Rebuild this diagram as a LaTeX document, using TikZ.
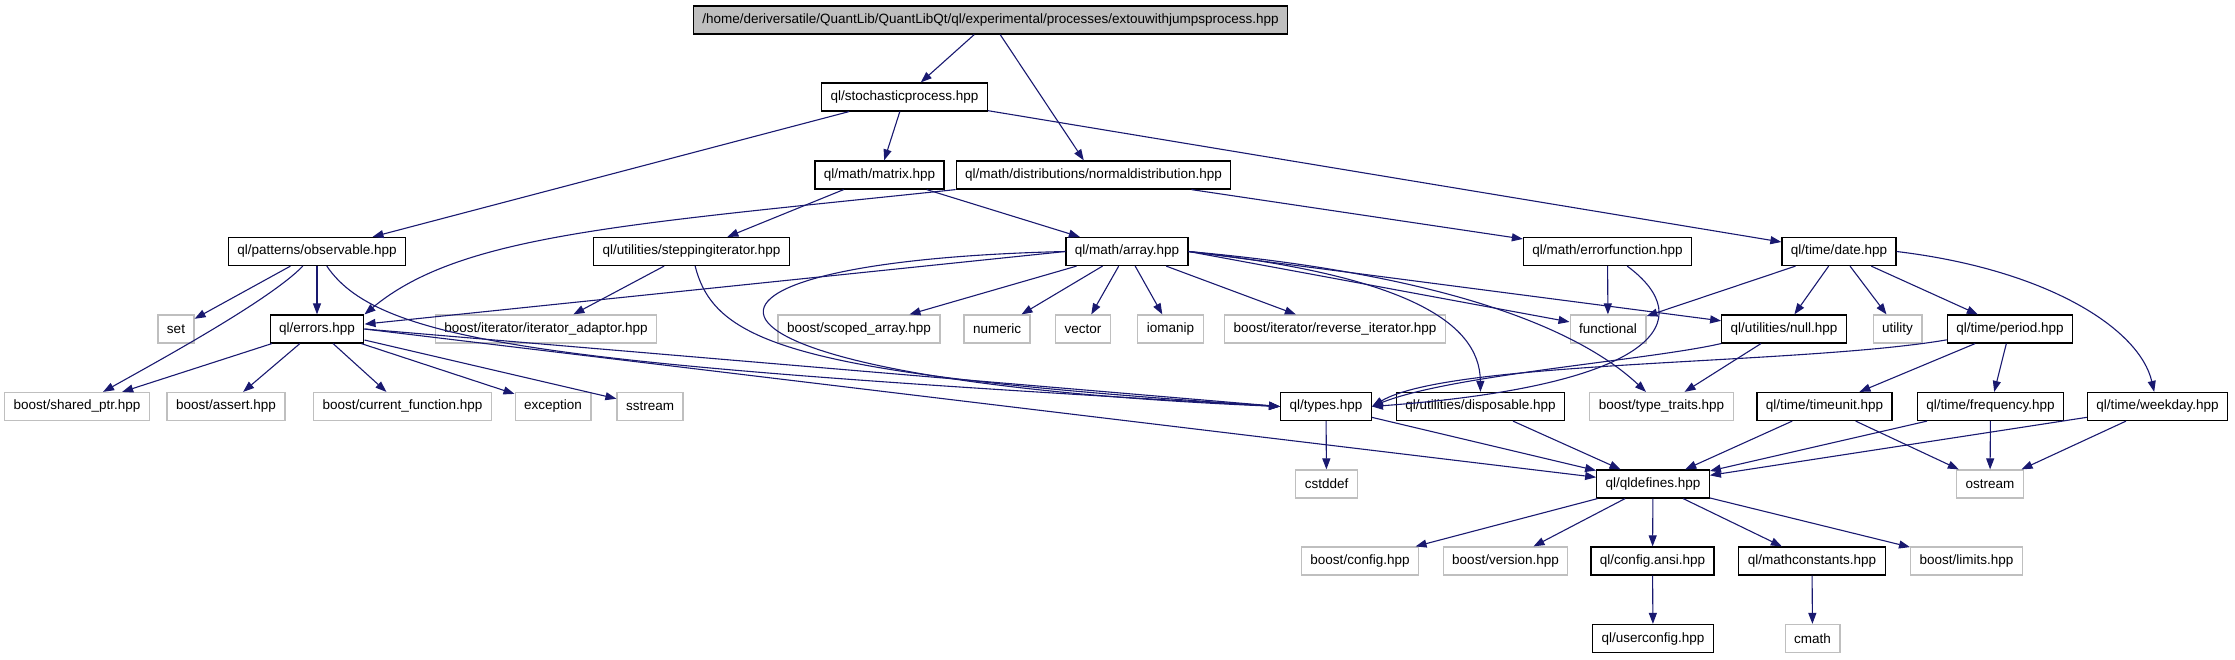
\documentclass[tikz,border=0pt]{standalone}
\usepackage{fontspec}
\setmainfont{Liberation Sans}
\usetikzlibrary{arrows.meta}

\definecolor{edgeblue}{RGB}{25,25,112}
\definecolor{boxgray}{RGB}{191,191,191}

\begin{document}
\begin{tikzpicture}[
    x=1pt, y=-1pt,
    >={Triangle[length=11pt,width=8pt]},
    filenode/.style={
        draw=black,
        line width=1.2pt,
        minimum height=28pt,
        inner xsep=9pt,
        inner ysep=0pt,
        font=\fontsize{13.5}{15}\selectfont
    },
    sysnode/.style={
        filenode,
        draw=boxgray
    },
    rootnode/.style={
        filenode,
        fill=boxgray
    },
    incl/.style={
        edgeblue,
        line width=1.1pt,
        ->
    }
]

\useasboundingbox (0,0) rectangle (2235,659);

% ============ TOP ============
\node[rootnode] (root) at (990.5,20) {/home/deriversatile/QuantLib/QuantLibQt/ql/experimental/processes/extouwithjumpsprocess.hpp};
\node[filenode] (stoch) at (904.5,97) {ql/stochasticprocess.hpp};
\node[filenode] (matrix) at (879.5,175) {ql/math/matrix.hpp};
\node[filenode] (normdist) at (1093.5,175) {ql/math/distributions/normaldistribution.hpp};

% ============ ROW 3 ============
\node[filenode] (observable) at (317,251.5) {ql/patterns/observable.hpp};
\node[filenode] (stepping) at (691.5,251.5) {ql/utilities/steppingiterator.hpp};
\node[filenode] (array) at (1127,251.5) {ql/math/array.hpp};
\node[filenode] (errorfn) at (1607.5,251.5) {ql/math/errorfunction.hpp};
\node[filenode] (date) at (1839,251.5) {ql/time/date.hpp};

% ============ ROW 4 ============
\node[sysnode] (set) at (176,329) {set};
\node[filenode] (errors) at (317,329) {ql/errors.hpp};
\node[sysnode] (iteradaptor) at (546,329) {boost/iterator/iterator\_adaptor.hpp};
\node[sysnode] (scoped) at (859,329) {boost/scoped\_array.hpp};
\node[sysnode] (numeric) at (997,329) {numeric};
\node[sysnode] (vector) at (1083,329) {vector};
\node[sysnode] (iomanip) at (1170.5,329) {iomanip};
\node[sysnode] (reviter) at (1335,329) {boost/iterator/reverse\_iterator.hpp};
\node[sysnode] (functional) at (1608,329) {functional};
\node[filenode] (null) at (1784,329) {ql/utilities/null.hpp};
\node[sysnode] (utility) at (1897.5,329) {utility};
\node[filenode] (period) at (2010,329) {ql/time/period.hpp};

% ============ ROW 5 ============
\node[sysnode] (sharedptr) at (77,406.5) {boost/shared\_ptr.hpp};
\node[sysnode] (assert) at (226,406.5) {boost/assert.hpp};
\node[sysnode] (curfunc) at (402.5,406.5) {boost/current\_function.hpp};
\node[sysnode] (exception) at (553,406.5) {exception};
\node[sysnode] (sstream) at (650,406.5) {sstream};
\node[filenode] (types) at (1326,406.5) {ql/types.hpp};
\node[filenode] (disposable) at (1480.5,406.5) {ql/utilities/disposable.hpp};
\node[sysnode] (typetraits) at (1661.5,406.5) {boost/type\_traits.hpp};
\node[filenode] (timeunit) at (1824.5,406.5) {ql/time/timeunit.hpp};
\node[filenode] (frequency) at (1990.5,406.5) {ql/time/frequency.hpp};
\node[filenode] (weekday) at (2157.5,406.5) {ql/time/weekday.hpp};

% ============ BOTTOM ============
\node[sysnode] (cstddef) at (1326.5,484) {cstddef};
\node[filenode] (qldefines) at (1653,484) {ql/qldefines.hpp};
\node[sysnode] (ostream) at (1990,484) {ostream};
\node[sysnode] (bconfig) at (1360,561) {boost/config.hpp};
\node[sysnode] (bversion) at (1505.5,561) {boost/version.hpp};
\node[filenode] (configansi) at (1652.5,561) {ql/config.ansi.hpp};
\node[filenode] (mathconst) at (1812,561) {ql/mathconstants.hpp};
\node[sysnode] (blimits) at (1966.5,561) {boost/limits.hpp};
\node[filenode] (userconfig) at (1653,638.5) {ql/userconfig.hpp};
\node[sysnode] (cmath) at (1812.5,638.5) {cmath};

% ============ EDGES ============
\draw[incl] (root) -- (stoch);
\draw[incl] (root) -- (normdist);
\draw[incl] (stoch) -- (observable);
\draw[incl] (stoch) -- (matrix);
\draw[incl] (stoch) -- (date);
\draw[incl] (matrix) -- (stepping);
\draw[incl] (matrix) -- (array);
\draw[incl] (normdist.south west) .. controls (620,225) and (460,235) .. (errors.north east);
\draw[incl] (normdist) -- (errorfn);

% observable
\draw[incl] (observable) -- (set);
\draw[incl] (observable) -- (errors);
\draw[incl] (observable) .. controls (270,300) and (160,360) .. (sharedptr);
\draw[incl] (observable) .. controls (380,345) and (560,365) .. (types.west);

% stepping iterator
\draw[incl] (stepping) -- (iteradaptor);
\draw[incl] (stepping) .. controls (715,345) and (800,375) .. (types.west);

% array
\draw[incl] (array.west) -- (errors);
\draw[incl] (array.west) .. controls (620,262) and (650,380) .. (types.west);
\draw[incl] (array) -- (scoped);
\draw[incl] (array) -- (numeric);
\draw[incl] (array) -- (vector);
\draw[incl] (array) -- (iomanip);
\draw[incl] (array) -- (reviter);
\draw[incl] (array.east) .. controls (1400,275) and (1480,320) .. (disposable);
\draw[incl] (array.east) .. controls (1450,275) and (1580,330) .. (typetraits);
\draw[incl] (array.east) -- (functional);
\draw[incl] (array.east) -- (null);

% error function, date
\draw[incl] (errorfn) -- (functional);
\draw[incl] (errorfn) .. controls (1700,320) and (1660,385) .. (types.east);
\draw[incl] (date) -- (functional);
\draw[incl] (date) -- (null);
\draw[incl] (date) -- (utility);
\draw[incl] (date) -- (period);
\draw[incl] (date.east) .. controls (2050,270) and (2140,330) .. (weekday);

% errors
\draw[incl] (errors) -- (sharedptr);
\draw[incl] (errors) -- (assert);
\draw[incl] (errors) -- (curfunc);
\draw[incl] (errors) -- (exception);
\draw[incl] (errors) -- (sstream);
\draw[incl] (errors.east) -- (types.west);
\draw[incl] (errors.east) -- (qldefines);

% null, period
\draw[incl] (null) .. controls (1650,360) and (1450,375) .. (types.east);
\draw[incl] (null) -- (typetraits);
\draw[incl] (period) .. controls (1800,365) and (1450,360) .. (types.east);
\draw[incl] (period) -- (timeunit);
\draw[incl] (period) -- (frequency);

% into ql/qldefines.hpp
\draw[incl] (types) -- (cstddef);
\draw[incl] (types) -- (qldefines);
\draw[incl] (disposable) -- (qldefines);
\draw[incl] (timeunit) -- (qldefines);
\draw[incl] (timeunit) -- (ostream);
\draw[incl] (frequency) -- (qldefines);
\draw[incl] (frequency) -- (ostream);
\draw[incl] (weekday) -- (qldefines);
\draw[incl] (weekday) -- (ostream);

% ql/qldefines.hpp
\draw[incl] (qldefines) -- (bconfig);
\draw[incl] (qldefines) -- (bversion);
\draw[incl] (qldefines) -- (configansi);
\draw[incl] (qldefines) -- (mathconst);
\draw[incl] (qldefines) -- (blimits);
\draw[incl] (configansi) -- (userconfig);
\draw[incl] (mathconst) -- (cmath);

\end{tikzpicture}
\end{document}
